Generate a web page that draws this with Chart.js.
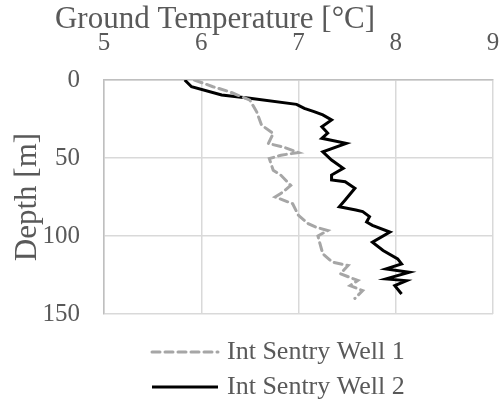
<!DOCTYPE html>
<html>
<head>
<meta charset="utf-8">
<script src="https://cdn.jsdelivr.net/npm/chart.js@4.4.1/dist/chart.umd.min.js"></script>
<style>
  html, body { margin: 0; padding: 0; background: #fff; }
  #wrap { width: 503px; height: 402px; }
</style>
</head>
<body>
<div id="wrap"><canvas id="grafico" width="503" height="402"></canvas></div>
<script>
// Dados
const profundidade1 = [0, 4.3, 7.5, 12.9, 20.4, 28.9, 34.3, 40.7, 42.9, 46.5, 48.2, 50.4, 57.9, 61.1, 67.5, 71.8, 75.0, 79.3, 86.8, 92.1, 94.3, 96.5, 100.0, 104.8, 111.4, 116.8, 118.9, 124.2, 128.5, 131.8, 135.0, 140.0];
const temperatura1 = [5.93, 6.12, 6.29, 6.50, 6.57, 6.62, 6.74, 6.69, 6.84, 7.00, 6.82, 6.70, 6.74, 6.82, 6.92, 6.84, 6.76, 6.94, 7.00, 7.10, 7.18, 7.30, 7.20, 7.22, 7.25, 7.35, 7.51, 7.43, 7.61, 7.53, 7.66, 7.58];

const profundidade2 = [0, 4.3, 9.6, 11.7, 15.6, 18.2, 20.3, 22.4, 25.6, 29.9, 34.0, 37.4, 40.6, 46.0, 51.3, 56.6, 60.9, 64.1, 65.2, 69.4, 76.9, 81.2, 83.3, 84.4, 87.6, 91.0, 93.2, 97.5, 104.0, 109.3, 114.7, 117.9, 121.1, 123.2, 127.5, 128.6, 131.8, 137.2];
const temperatura2 = [5.83, 5.90, 6.21, 6.50, 6.98, 7.06, 7.16, 7.25, 7.34, 7.24, 7.30, 7.24, 7.49, 7.25, 7.34, 7.46, 7.34, 7.34, 7.48, 7.58, 7.48, 7.42, 7.59, 7.66, 7.73, 7.70, 7.76, 7.94, 7.76, 7.87, 8.02, 8.06, 7.90, 8.14, 7.90, 8.11, 7.99, 8.06];

const nomesSeries = ['Int Sentry Well 1', 'Int Sentry Well 2'];
const ticksTemperatura = [5, 6, 7, 8, 9];
const ticksProfundidade = [0, 50, 100, 150];

const tituloX = 'Ground Temperature [°C]';
const tituloY = 'Depth [m]';

const fonte = "'Liberation Serif', 'Times New Roman', serif";
const corTexto = '#595959';

function pares(xs, ys) {
    return xs.map((x, i) => ({ x: x, y: ys[i] }));
}

// Título do eixo X e legenda vertical desenhados à mão
const extras = {
    id: 'extras',
    afterDraw(chart) {
        const ctx = chart.ctx;
        ctx.save();
        ctx.fillStyle = corTexto;
        ctx.font = '31px ' + fonte;
        ctx.textAlign = 'center';
        ctx.textBaseline = 'alphabetic';
        ctx.fillText(tituloX, 215, 28);

        const linhas = [352, 387];
        chart.data.datasets.forEach((ds, i) => {
            const y = linhas[i];
            ctx.strokeStyle = ds.borderColor;
            ctx.lineWidth = ds.borderWidth;
            ctx.lineCap = ds.borderCapStyle || 'butt';
            ctx.setLineDash(ds.borderDash || []);
            ctx.beginPath();
            ctx.moveTo(152, y);
            ctx.lineTo(218, y);
            ctx.stroke();
            ctx.setLineDash([]);
            ctx.fillStyle = corTexto;
            ctx.font = '26px ' + fonte;
            ctx.textAlign = 'left';
            ctx.textBaseline = 'middle';
            ctx.fillText(ds.label, 227, y);
        });
        ctx.restore();
    }
};

new Chart(document.getElementById('grafico'), {
    type: 'scatter',
    data: {
        datasets: [{
            label: nomesSeries[0],
            data: pares(temperatura1, profundidade1),
            showLine: true,
            borderColor: '#a6a6a6',
            borderWidth: 3,
            borderDash: [8, 5],
            borderCapStyle: 'round',
            pointRadius: 0,
            tension: 0
        }, {
            label: nomesSeries[1],
            data: pares(temperatura2, profundidade2),
            showLine: true,
            borderColor: '#000000',
            borderWidth: 3,
            pointRadius: 0,
            tension: 0
        }]
    },
    options: {
        responsive: false,
        animation: false,
        layout: { padding: { left: 0, top: 0, right: 10, bottom: 88 } },
        plugins: {
            legend: { display: false },
            tooltip: { enabled: false }
        },
        scales: {
            x: {
                type: 'linear',
                position: 'top',
                min: 5,
                max: 9,
                afterFit: (s) => { s.height = 80; s.paddingLeft = 0; s.paddingRight = 0; },
                afterBuildTicks: (s) => { s.ticks = ticksTemperatura.map(v => ({ value: v })); },
                ticks: { color: corTexto, font: { family: fonte, size: 25 }, padding: 22 },
                grid: { color: '#d9d9d9', lineWidth: 1.5, drawTicks: false },
                border: { color: '#bfbfbf', width: 1.5 }
            },
            y: {
                type: 'linear',
                reverse: true,
                min: 0,
                max: 150,
                afterFit: (s) => { s.width = 104; s.paddingTop = 0; s.paddingBottom = 0; },
                afterBuildTicks: (s) => { s.ticks = ticksProfundidade.map(v => ({ value: v })); },
                ticks: { color: corTexto, font: { family: fonte, size: 25 }, padding: 24 },
                grid: { color: '#d9d9d9', lineWidth: 1.5, drawTicks: false },
                border: { color: '#bfbfbf', width: 1.5 },
                title: {
                    display: true,
                    text: tituloY,
                    color: corTexto,
                    font: { family: fonte, size: 31 },
                    padding: { top: 9, bottom: 0 }
                }
            }
        }
    },
    plugins: [extras]
});
</script>
</body>
</html>
